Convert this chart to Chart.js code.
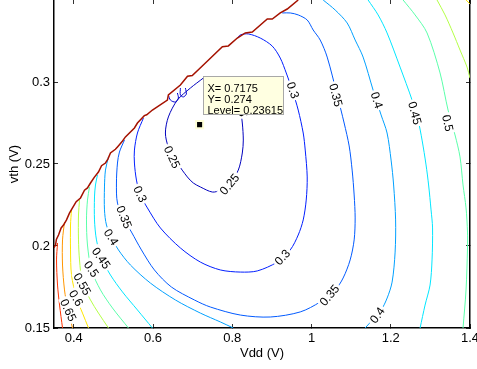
<!DOCTYPE html>
<html>
<head>
<meta charset="utf-8">
<script src="https://cdn.jsdelivr.net/npm/chart.js@4.4.1/dist/chart.umd.min.js"></script>
<style>
    html, body { margin: 0; padding: 0; background: #fff; }
    canvas { display: block; }
</style>
</head>
<body>
<canvas id="contourChart" width="477" height="369"></canvas>
<script>
// axis ticks
const xTicks = [0.4, 0.6, 0.8, 1, 1.2, 1.4];
const yTicks = [0.15, 0.2, 0.25, 0.3];

// contour lines, [Vdd, vth]
const c025 = [[0.7269,0.3024],[0.6942,0.2963],[0.6614,0.2890],[0.6387,0.2787],[0.6312,0.2689],[0.6387,0.2604],[0.6614,0.2506],[0.6866,0.2421],[0.7017,0.2384],[0.7194,0.2360],[0.7496,0.2329],[0.7698,0.2341],[0.7950,0.2390],[0.8152,0.2463],[0.8253,0.2567],[0.8278,0.2646],[0.8253,0.2750],[0.8202,0.2829],[0.8076,0.2921],[0.7849,0.3000],[0.7572,0.3030],[0.7269,0.3024]];
const c025a = [[0.6387,0.2921],[0.6438,0.2890],[0.6564,0.2878],[0.6639,0.2902],[0.6614,0.2933]];
const c025b = [[0.6690,0.2963],[0.6690,0.2921],[0.6765,0.2909],[0.6841,0.2927],[0.6816,0.2963]];
const c030 = [[0.5757,0.2780],[0.5606,0.2689],[0.5530,0.2585],[0.5530,0.2506],[0.5581,0.2402],[0.5681,0.2311],[0.5858,0.2232],[0.6186,0.2110],[0.6690,0.1988],[0.7194,0.1902],[0.7698,0.1854],[0.8202,0.1841],[0.8631,0.1848],[0.9135,0.1902],[0.9463,0.1976],[0.9664,0.2067],[0.9790,0.2159],[0.9866,0.2280],[0.9891,0.2421],[0.9841,0.2585],[0.9790,0.2689],[0.9664,0.2829],[0.9513,0.2951],[0.9362,0.3055],[0.9211,0.3146],[0.9009,0.3219],[0.8707,0.3268],[0.8404,0.3293],[0.8202,0.3287],[0.8127,0.3268]];
const c035 = [[0.5278,0.2646],[0.5152,0.2573],[0.5102,0.2506],[0.5076,0.2384],[0.5102,0.2262],[0.5278,0.2159],[0.5455,0.2085],[0.5707,0.1976],[0.6034,0.1854],[0.6463,0.1750],[0.7043,0.1671],[0.7446,0.1628],[0.8202,0.1579],[0.8959,0.1567],[0.9715,0.1598],[1.0219,0.1659],[1.0597,0.1732],[1.0798,0.1805],[1.0975,0.1915],[1.1076,0.2037],[1.1101,0.2171],[1.1076,0.2311],[1.1025,0.2463],[1.0950,0.2610],[1.0823,0.2750],[1.0647,0.2921],[1.0395,0.3152],[1.0219,0.3256],[1.0042,0.3317],[0.9891,0.3378],[0.9664,0.3409],[0.9463,0.3421],[0.9261,0.3421]];
const c040a = [[0.4875,0.2543],[0.4799,0.2463],[0.4774,0.2360],[0.4774,0.2220],[0.4824,0.2128],[0.4950,0.2055],[0.5127,0.1976],[0.5429,0.1884],[0.5933,0.1774],[0.6564,0.1671],[0.7194,0.1591],[0.7698,0.1537],[0.8026,0.1500]];
const c040b = [[1.0294,0.3500],[1.0597,0.3439],[1.0899,0.3360],[1.1101,0.3256],[1.1302,0.3152],[1.1554,0.2951],[1.1756,0.2799],[1.1907,0.2689],[1.2008,0.2524],[1.2072,0.2372],[1.2122,0.2159],[1.2110,0.1963],[1.2034,0.1780],[1.1909,0.1683],[1.1756,0.1610],[1.1353,0.1500]];
const c045a = [[0.4597,0.2433],[0.4547,0.2372],[0.4522,0.2299],[0.4522,0.2159],[0.4572,0.2037],[0.4698,0.1927],[0.4925,0.1823],[0.5228,0.1720],[0.5606,0.1610],[0.5984,0.1500]];
const c045b = [[1.1428,0.3500],[1.1681,0.3409],[1.1907,0.3299],[1.2235,0.3091],[1.2538,0.2890],[1.2689,0.2768],[1.2790,0.2646],[1.2891,0.2494],[1.2955,0.2372],[1.3017,0.2220],[1.3055,0.2110],[1.3042,0.1915],[1.2992,0.1762],[1.2866,0.1640],[1.2740,0.1500]];
const c050a = [[0.4396,0.2360],[0.4345,0.2280],[0.4320,0.2159],[0.4345,0.2006],[0.4446,0.1854],[0.4673,0.1732],[0.4976,0.1622],[0.5379,0.1500]];
const c050b = [[1.2311,0.3500],[1.2614,0.3409],[1.2916,0.3299],[1.3244,0.3055],[1.3446,0.2829],[1.3622,0.2677],[1.3748,0.2543],[1.3824,0.2372],[1.3900,0.2232],[1.3937,0.2085],[1.3937,0.1988],[1.3900,0.1732],[1.3824,0.1500]];
const c055a = [[0.4144,0.2280],[0.4118,0.2189],[0.4118,0.2037],[0.4144,0.1915],[0.4219,0.1774],[0.4421,0.1671],[0.4622,0.1591],[0.4875,0.1500]];
const c055b = [[1.3168,0.3500],[1.3370,0.3409],[1.3572,0.3299],[1.3748,0.3195],[1.3925,0.3091],[1.4000,0.3024]];
const c060a = [[0.3942,0.2220],[0.3917,0.2128],[0.3917,0.1976],[0.3942,0.1823],[0.4068,0.1683],[0.4219,0.1591],[0.4371,0.1500]];
const c060b = [[1.3900,0.3500],[1.4000,0.3476]];
const c065 = [[0.3765,0.2146],[0.3715,0.2037],[0.3715,0.1884],[0.3765,0.1732],[0.3841,0.1622],[0.3917,0.1549],[0.3967,0.1500]];
const c070 = [[0.3589,0.2018],[0.3564,0.1915],[0.3589,0.1762],[0.3640,0.1640],[0.3715,0.1500]];
const edge = [[0.9664,0.3500],[0.9387,0.3445],[0.9211,0.3421],[0.9009,0.3384],[0.8883,0.3384],[0.8505,0.3305],[0.8328,0.3299],[0.8127,0.3268],[0.7900,0.3220],[0.7750,0.3215],[0.7269,0.3104],[0.6990,0.3040],[0.6870,0.3035],[0.6690,0.2982],[0.6387,0.2921],[0.6362,0.2890],[0.5984,0.2829],[0.5840,0.2800],[0.5780,0.2795],[0.5606,0.2750],[0.5530,0.2720],[0.5303,0.2665],[0.5230,0.2640],[0.5102,0.2604],[0.5050,0.2590],[0.4925,0.2567],[0.4860,0.2530],[0.4799,0.2506],[0.4700,0.2490],[0.4622,0.2451],[0.4520,0.2420],[0.4421,0.2384],[0.4345,0.2354],[0.4270,0.2340],[0.4169,0.2293],[0.4060,0.2270],[0.3967,0.2232],[0.3890,0.2200],[0.3816,0.2159],[0.3740,0.2128],[0.3680,0.2110],[0.3614,0.2067],[0.3560,0.2040],[0.3539,0.2006],[0.3500,0.1990]];

// inline labels: text, Vdd, vth, rotation (deg)
const labelSpots = [
    ['0.25', 0.6488, 0.2543, 65], ['0.25', 0.7925, 0.2378, -50], ['0.25', 0.8253, 0.2860, 85],
    ['0.3', 0.5681, 0.2317, 65], ['0.3', 0.9538, 0.2951, 72], ['0.3', 0.9261, 0.1933, -48],
    ['0.35', 0.5278, 0.2177, 68], ['0.35', 1.0622, 0.2921, 75], ['0.35', 1.0446, 0.1701, -50],
    ['0.4', 0.4950, 0.2055, 58], ['0.4', 1.1655, 0.2890, 72], ['0.4', 1.1655, 0.1579, -55],
    ['0.45', 0.4698, 0.1927, 55], ['0.45', 1.2614, 0.2811, 75],
    ['0.5', 0.4446, 0.1860, 55], ['0.5', 1.3446, 0.2750, 78],
    ['0.55', 0.4219, 0.1768, 60], ['0.6', 0.4068, 0.1683, 60], ['0.65', 0.3866, 0.1610, 65]
];

// data tip
const tipX = 0.7175;
const tipY = 0.274;
const tipLevel = 0.23615;

function toPoints(arr) {
    return arr.map(p => ({ x: p[0], y: p[1] }));
}

function line(arr, color) {
    return {
        data: toPoints(arr),
        showLine: true,
        borderColor: color,
        borderWidth: 1,
        pointRadius: 0,
        pointHoverRadius: 0,
        tension: 0.3,
        fill: false
    };
}

const datasets = [
    {
        data: [{ x: tipX, y: tipY }],
        pointStyle: 'rect',
        pointRadius: 5,
        pointHoverRadius: 5,
        backgroundColor: '#000',
        borderColor: '#ffffd8',
        borderWidth: 2
    },
    Object.assign(line(edge, 'rgb(165,18,0)'), { tension: 0, borderWidth: 1.5 }),
    line(c025, 'rgb(0,0,190)'),
    line(c025a, 'rgb(0,0,210)'),
    line(c025b, 'rgb(0,0,210)'),
    line(c030, 'rgb(0,30,255)'),
    line(c035, 'rgb(0,90,255)'),
    line(c040a, 'rgb(0,160,255)'),
    line(c040b, 'rgb(0,160,255)'),
    line(c045a, 'rgb(0,230,255)'),
    line(c045b, 'rgb(0,230,255)'),
    line(c050a, 'rgb(90,255,170)'),
    line(c050b, 'rgb(90,255,170)'),
    line(c055a, 'rgb(180,255,70)'),
    line(c055b, 'rgb(180,255,70)'),
    line(c060a, 'rgb(255,230,0)'),
    line(c060b, 'rgb(255,230,0)'),
    line(c065, 'rgb(255,150,0)'),
    line(c070, 'rgb(255,50,0)')
];

const contourLabels = {
    id: 'contourLabels',
    afterDatasetsDraw(chart) {
        const { ctx, chartArea } = chart;
        const x = chart.scales.x, y = chart.scales.y;
        ctx.save();
        ctx.beginPath();
        ctx.rect(chartArea.left, chartArea.top, chartArea.width, chartArea.height);
        ctx.clip();
        ctx.font = '12px "Liberation Sans", Arial, sans-serif';
        ctx.textAlign = 'center';
        ctx.textBaseline = 'middle';
        labelSpots.forEach(([txt, vx, vy, ang]) => {
            const w = ctx.measureText(txt).width;
            ctx.save();
            ctx.translate(x.getPixelForValue(vx), y.getPixelForValue(vy));
            ctx.rotate(ang * Math.PI / 180);
            ctx.fillStyle = '#fff';
            ctx.fillRect(-w / 2 - 2, -5, w + 4, 10);
            ctx.fillStyle = '#000';
            ctx.fillText(txt, 0, 1);
            ctx.restore();
        });
        ctx.restore();
    }
};

const dataTip = {
    id: 'dataTip',
    afterDraw(chart) {
        const { ctx } = chart;
        const px = chart.scales.x.getPixelForValue(tipX);
        const py = chart.scales.y.getPixelForValue(tipY);
        const bx = Math.round(px + 3) + 0.5, by = Math.round(py - 49) + 0.5;
        ctx.save();
        ctx.fillStyle = '#ffffe1';
        ctx.strokeStyle = '#a8a8a8';
        ctx.lineWidth = 1;
        ctx.fillRect(bx, by, 80, 38);
        ctx.strokeRect(bx, by, 80, 38);
        ctx.fillStyle = '#000';
        ctx.font = '11px "Liberation Sans", Arial, sans-serif';
        ctx.textBaseline = 'middle';
        ctx.fillText('X= ' + tipX, bx + 4, by + 12);
        ctx.fillText('Y= ' + tipY, bx + 4, by + 23);
        ctx.fillText('Level= ' + tipLevel, bx + 4, by + 34);
        ctx.restore();
    }
};

function fixTicks(list) {
    return scale => { scale.ticks = list.map(v => ({ value: v })); };
}

function fixSize(w, h) {
    return scale => {
        if (w !== null) scale.width = w;
        if (h !== null) scale.height = h;
        scale.paddingLeft = 0;
        scale.paddingRight = 0;
        scale.paddingTop = 0;
        scale.paddingBottom = 0;
    };
}

const tickGrid = { drawOnChartArea: false, drawTicks: true, tickLength: -4, color: '#333', lineWidth: 1 };
const boxBorder = { display: true, color: '#000', width: 1.5 };

Chart.defaults.font.family = '"Liberation Sans", Arial, sans-serif';
Chart.defaults.font.size = 13;
Chart.defaults.color = '#000';

new Chart(document.getElementById('contourChart'), {
    type: 'scatter',
    data: { datasets: datasets },
    options: {
        responsive: false,
        animation: false,
        devicePixelRatio: 1,
        events: [],
        layout: { autoPadding: false, padding: { left: 0, right: 7, top: 0, bottom: 0 } },
        plugins: { legend: { display: false }, tooltip: { enabled: false } },
        scales: {
            x: {
                type: 'linear', position: 'bottom', min: 0.35, max: 1.4,
                afterBuildTicks: fixTicks(xTicks), afterFit: fixSize(null, 41),
                grid: tickGrid, border: boxBorder,
                ticks: { padding: 7, maxRotation: 0, callback: v => String(v) },
                title: { display: true, text: 'Vdd (V)', padding: { top: 0, bottom: 8 } }
            },
            y: {
                type: 'linear', position: 'left', min: 0.15, max: 0.35,
                afterBuildTicks: fixTicks(yTicks), afterFit: fixSize(54, null),
                grid: tickGrid, border: boxBorder,
                ticks: { padding: 8, callback: v => String(v) },
                title: { display: true, text: 'vth (V)', padding: { top: 7, bottom: 0 } }
            },
            x2: {
                type: 'linear', position: 'top', min: 0.35, max: 1.4,
                afterBuildTicks: fixTicks(xTicks), afterFit: fixSize(null, 0),
                grid: tickGrid, border: { display: false }, ticks: { display: false }
            },
            y2: {
                type: 'linear', position: 'right', min: 0.15, max: 0.35,
                afterBuildTicks: fixTicks(yTicks), afterFit: fixSize(0, null),
                grid: tickGrid, border: boxBorder, ticks: { display: false }
            }
        }
    },
    plugins: [contourLabels, dataTip]
});
</script>
</body>
</html>
